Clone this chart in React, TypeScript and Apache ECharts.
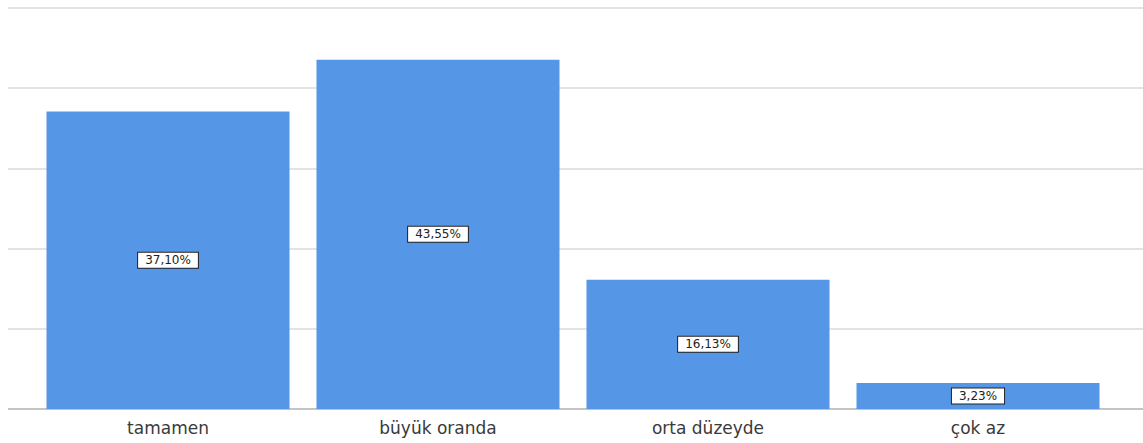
import React, { useEffect, useRef } from "react";
import * as echarts from "echarts";

const categories = ["tamamen", "büyük oranda", "orta düzeyde", "çok az"];
const values = [37.1, 43.55, 16.13, 3.23];
const yTicks = [0, 10, 20, 30, 40, 50];

export default function App() {
  const ref = useRef<HTMLDivElement>(null);
  useEffect(() => {
    if (!ref.current) return;
    const chart = echarts.init(ref.current, undefined, { renderer: "svg" });
    chart.setOption({
      animation: false,
      backgroundColor: "#ffffff",
      grid: [
        { left: 8, right: 0, top: 8, bottom: 34 },
        { left: 33, right: 30, top: 8, bottom: 34 },
      ],
      xAxis: [
        {
          gridIndex: 0,
          type: "value",
          min: 0,
          max: 1,
          axisLine: { show: false },
          axisTick: { show: false },
          axisLabel: { show: false },
          splitLine: { show: false },
        },
        {
          gridIndex: 1,
          type: "category",
          data: categories,
          axisLine: { show: false },
          axisTick: { show: false },
          axisLabel: {
            color: "#3a3a3a",
            fontSize: 17,
            fontFamily: "DejaVu Sans",
            margin: 10,
          },
        },
      ],
      yAxis: [
        {
          gridIndex: 0,
          type: "value",
          min: yTicks[0],
          max: yTicks[yTicks.length - 1],
          interval: 10,
          axisLine: { show: false },
          axisTick: { show: false },
          axisLabel: { show: false },
          splitLine: { lineStyle: { color: "#e3e3e3", width: 2 } },
        },
        {
          gridIndex: 1,
          type: "value",
          min: yTicks[0],
          max: yTicks[yTicks.length - 1],
          interval: 10,
          axisLine: { show: false },
          axisTick: { show: false },
          axisLabel: { show: false },
          splitLine: { show: false },
        },
      ],
      series: [
        {
          type: "line",
          xAxisIndex: 0,
          yAxisIndex: 0,
          data: [[0, 0], [1, 0]],
          symbol: "none",
          lineStyle: { color: "#c4c4c4", width: 2 },
          silent: true,
          z: 1,
        },
        {
          type: "bar",
          xAxisIndex: 1,
          yAxisIndex: 1,
          data: values,
          barCategoryGap: "10%",
          itemStyle: { color: "#5596E6" },
          z: 3,
          label: {
            show: true,
            position: "inside",
            formatter: (p: any) => p.value.toFixed(2).replace(".", ",") + "%",
            color: "#222222",
            fontSize: 12,
            fontFamily: "DejaVu Sans",
            backgroundColor: "#ffffff",
            borderColor: "#222222",
            borderWidth: 1,
            padding: [2, 7, 1, 7],
          },
        },
      ],
    });
    return () => chart.dispose();
  }, []);
  return <div ref={ref} style={{ width: 1143, height: 443, position: "absolute", left: 0, top: 0 }} />;
}
